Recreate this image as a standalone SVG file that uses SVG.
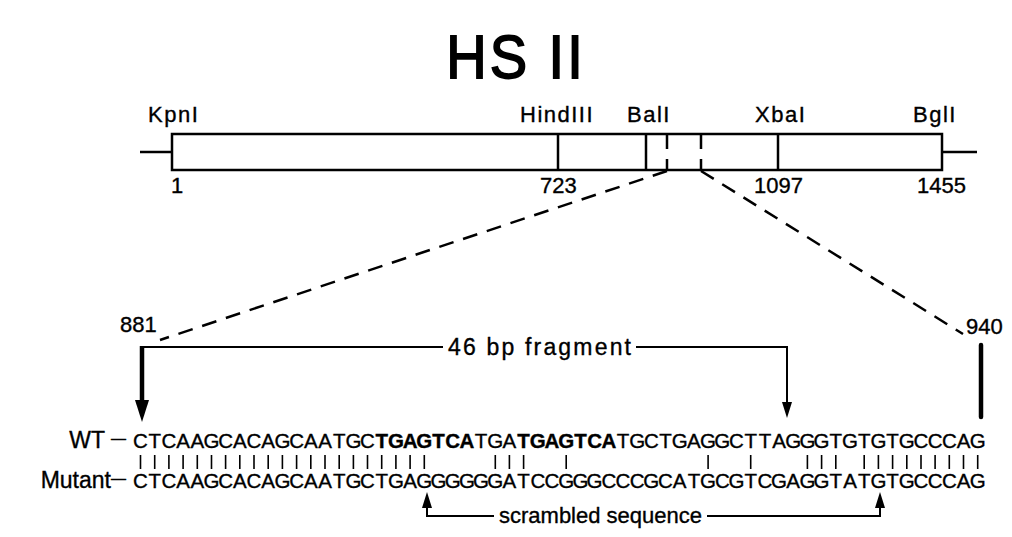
<svg xmlns="http://www.w3.org/2000/svg" width="1012" height="537" viewBox="0 0 1012 537">
  <style>
    text { font-family: "Liberation Sans", Arial, Helvetica, sans-serif; fill: #000; stroke: #000; stroke-width: 0.35; }
    .title { font-size: 56px; letter-spacing: 3px; text-anchor: middle; stroke-width: 1.6; }
    .site { font-size: 22px; letter-spacing: 1.5px; }
    .num { font-size: 22px; }
    .lbl { font-size: 23px; }
    .lbl-s { font-size: 22px; }
    .seq { font-size: 20.5px; text-anchor: middle; }
    .b { font-weight: bold; }
    .ln { stroke: #000; stroke-width: 2.5; fill: none; }
    .dash { stroke: #000; stroke-width: 2.5; fill: none; stroke-dasharray: 15 10; }
    .thin { stroke: #000; stroke-width: 2; fill: none; }
    .thick { stroke: #000; stroke-width: 4.5; fill: none; }
    .bar { stroke: #000; stroke-width: 1.6; fill: none; }
    .head { fill: #000; stroke: none; }
  </style>

  <g id="title">
    <text class="title" transform="translate(516,78) scale(1,1.1)">HS II</text>
  </g>

  <!-- restriction map of the HS II fragment -->
  <g id="map">
    <line class="ln" x1="140" y1="152" x2="172" y2="152"/>
    <line class="ln" x1="942" y1="152" x2="977" y2="152"/>
    <rect class="ln" x="172" y="134" width="770" height="36"/>
    <line class="ln" x1="558" y1="134" x2="558" y2="170"/>
    <line class="ln" x1="646" y1="134" x2="646" y2="170"/>
    <line class="dash" x1="667" y1="134" x2="667" y2="170" stroke-dasharray="9 6"/>
    <line class="dash" x1="701" y1="134" x2="701" y2="170" stroke-dasharray="9 6"/>
    <line class="ln" x1="778" y1="134" x2="778" y2="170"/>
  </g>

  <g id="sites">
    <text class="site" x="148" y="122">KpnI</text>
    <text class="site" x="520" y="122">HindIII</text>
    <text class="site" x="627" y="122">BalI</text>
    <text class="site" x="755" y="122">XbaI</text>
    <text class="site" x="913" y="122">BglI</text>
  </g>

  <g id="positions">
    <text class="num" x="171" y="193">1</text>
    <text class="num" x="540" y="193">723</text>
    <text class="num" x="754" y="193">1097</text>
    <text class="num" x="917" y="193">1455</text>
    <text class="num" x="120" y="332">881</text>
    <text class="num" x="966" y="334">940</text>
  </g>

  <g id="connectors">
    <!-- zoom lines from the map down to the sequence -->
    <line class="dash" x1="667" y1="171" x2="160" y2="340"/>
    <line class="dash" x1="701" y1="171" x2="963" y2="334"/>

    <!-- 46 bp fragment bracket -->
    <polyline class="thin" points="142,347 443,347"/>
    <polyline class="thin" points="636,347 787,347 787,404"/>
    <polygon class="head" points="782,402 792,402 787,418"/>
    <line class="thick" x1="142" y1="346" x2="142" y2="402"/>
    <polygon class="head" points="135,400 149,400 142,422"/>
    <line class="thick" x1="981" y1="345" x2="981" y2="417" stroke-linecap="round"/>

    <!-- scrambled sequence bracket -->
    <polyline class="thin" points="427,505 427,516 494,516"/>
    <polygon class="head" points="422,508 432,508 427,492"/>
    <polyline class="thin" points="707,516 880,516 880,505"/>
    <polygon class="head" points="875,508 885,508 880,492"/>
  </g>

  <g id="labels">
    <text class="lbl" x="448" y="355" textLength="183" lengthAdjust="spacing">46 bp fragment</text>
    <text class="lbl-s" x="499" y="523">scrambled sequence</text>
  </g>

  <g id="wt">
    <text class="lbl" x="126" y="448" text-anchor="end">WT <tspan font-size="15" dy="-5">—</tspan></text>
    <text class="seq" y="448"><tspan x="140.5 154.7 168.9 183.1 197.3 211.5 225.6 239.8 254.0 268.2 282.4 296.6 310.8 325.0 339.2 353.4 367.5">CTCAAGCACAGCAATGC</tspan><tspan class="b" x="381.7 395.9 410.1 424.3 438.5 452.7 466.9">TGAGTCA</tspan><tspan x="481.1 495.3 509.4">TGA</tspan><tspan class="b" x="523.6 537.8 552.0 566.2 580.4 594.6 608.8">TGAGTCA</tspan><tspan x="623.0 637.2 651.3 665.5 679.7 693.9 708.1 722.3 736.5 750.7 764.9 779.1 793.2 807.4 821.6 835.8 850.0 864.2 878.4 892.6 906.8 921.0 935.1 949.3 963.5 977.7">TGCTGAGGCTTAGGGTGTGTGCCCAG</tspan></text>
  </g>

  <g id="matches">
    <path class="bar" d="M140.5 455v14M154.7 455v14M168.9 455v14M183.1 455v14M197.3 455v14M211.5 455v14M225.6 455v14M239.8 455v14M254.0 455v14M268.2 455v14M282.4 455v14M296.6 455v14M310.8 455v14M325.0 455v14M339.2 455v14M353.4 455v14M367.5 455v14M381.7 455v14M395.9 455v14M410.1 455v14M424.3 455v14M495.3 455v14M509.4 455v14M523.6 455v14M566.2 455v14M708.1 455v14M750.7 455v14M807.4 455v14M821.6 455v14M835.8 455v14M864.2 455v14M878.4 455v14M892.6 455v14M906.8 455v14M921.0 455v14M935.1 455v14M949.3 455v14M963.5 455v14M977.7 455v14"/>
  </g>

  <g id="mutant">
    <text class="lbl" x="126" y="488" text-anchor="end">Mutant<tspan font-size="15" dy="-5">—</tspan></text>
    <text class="seq" y="488" x="140.5 154.7 168.9 183.1 197.3 211.5 225.6 239.8 254.0 268.2 282.4 296.6 310.8 325.0 339.2 353.4 367.5 381.7 395.9 410.1 424.3 438.5 452.7 466.9 481.1 495.3 509.4 523.6 537.8 552.0 566.2 580.4 594.6 608.8 623.0 637.2 651.3 665.5 679.7 693.9 708.1 722.3 736.5 750.7 764.9 779.1 793.2 807.4 821.6 835.8 850.0 864.2 878.4 892.6 906.8 921.0 935.1 949.3 963.5 977.7">CTCAAGCACAGCAATGCTGAGGGGGGATCCGGGCCCGCATGCGTCGAGGTATGTGCCCAG</text>
  </g>
</svg>
